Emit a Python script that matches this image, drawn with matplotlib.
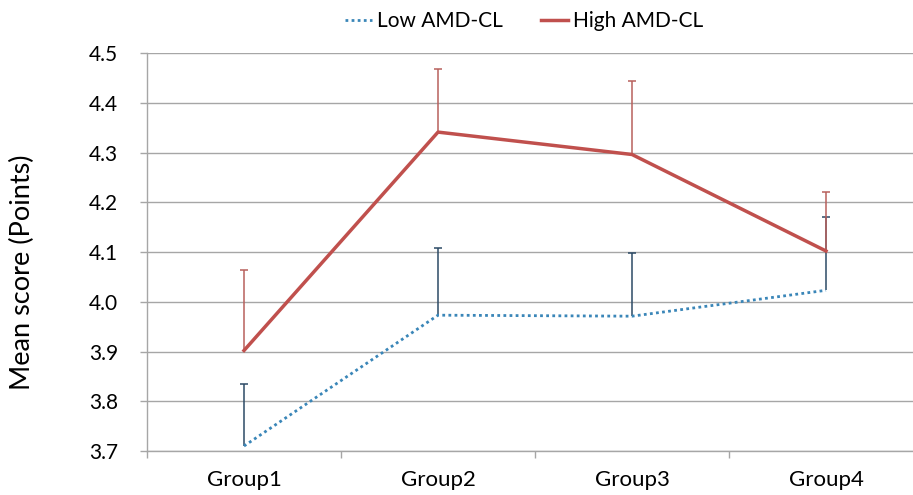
import numpy as np
import matplotlib.pyplot as plt

plt.rcParams['font.family'] = ['Lato', 'DejaVu Sans']

groups = ["Group1", "Group2", "Group3", "Group4"]
low_mean = [3.71, 3.973, 3.971, 4.023]
low_err = [0.125, 0.135, 0.127, 0.147]
high_mean = [3.902, 4.341, 4.296, 4.102]
high_err = [0.162, 0.127, 0.147, 0.119]

x = np.arange(1, len(groups) + 1)
grid_c = "#a6a6a6"

fig = plt.figure(figsize=(9.13, 4.95), dpi=100)
ax = fig.add_axes([147 / 913, 44 / 495, 776 / 913, 398 / 495])


def upper_bars(means, errs, color):
    tops = np.array(means) + np.array(errs)
    ax.vlines(x, means, tops, color=color, lw=1.1, zorder=3)
    ax.plot(x, tops, ls="none", marker="_", ms=6, mew=1.1, color=color, zorder=3)


upper_bars(low_mean, low_err, "#2c4a66")
upper_bars(high_mean, high_err, "#b8605c")

ax.plot(x, low_mean, color="#3a86b8", lw=2, ls=(0, (1, 1.2)),
        label="Low AMD-CL", zorder=4)
ax.plot(x, high_mean, color="#c0504d", lw=2.5, label="High AMD-CL", zorder=4)

ax.set_xlim(0.5, 4.5)
ax.set_ylim(3.7, 4.5)
yt = np.arange(3.7, 4.51, 0.1)
ax.set_yticks(yt)
ax.set_yticklabels([f"{v:.1f}" for v in yt], fontsize=15)
ax.set_xticks(x)
ax.set_xticklabels(groups, fontsize=16)
ax.set_xticks(np.arange(0.5, 4.6, 1), minor=True)
ax.tick_params(axis="x", which="major", length=0, pad=14)
ax.tick_params(axis="x", which="minor", length=5, color=grid_c, width=1)
ax.tick_params(axis="y", length=5, color=grid_c, width=1, pad=16)

ax.grid(axis="y", color=grid_c, lw=1)
ax.set_axisbelow(True)
for s in ["top", "right"]:
    ax.spines[s].set_visible(False)
for s in ["left", "bottom"]:
    ax.spines[s].set_color(grid_c)
    ax.spines[s].set_linewidth(1)

ax.set_ylabel("Mean score (Points)", fontsize=19.5)
ax.yaxis.set_label_coords((35 - 147) / 776, 0.45)

fig.legend(loc="upper center", bbox_to_anchor=(524 / 913, 1.015), ncol=2,
           frameon=False, fontsize=15, handlelength=1.3, columnspacing=1.8,
           handletextpad=0.25)

fig.savefig("out.png", dpi=100)
